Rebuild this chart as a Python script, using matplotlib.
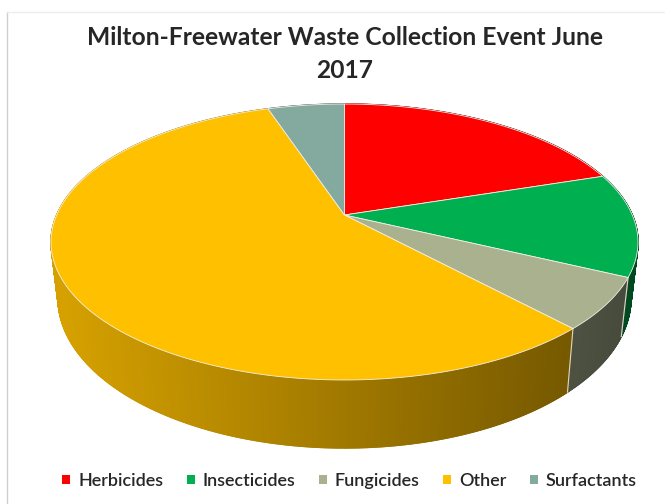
import numpy as np
import matplotlib
matplotlib.use("Agg")
import matplotlib.pyplot as plt
from matplotlib.patches import Patch, Polygon
from matplotlib.collections import PolyCollection

# Data
categories = ["Herbicides", "Insecticides", "Fungicides", "Other", "Surfactants"]
values = [20.0, 12.1, 6.0, 56.8, 5.1]
colors = ["#FF0000", "#00B050", "#A9B18E", "#FFC000", "#84A99E"]
title = "Milton-Freewater Waste Collection Event June\n2017"

plt.rcParams["font.family"] = ["Lato", "DejaVu Sans"]

# Tilted pie geometry, in pixels
cx, cy = 344.5, 215    # apex of the pie
a, b = 132.7, 287.8    # vertical / horizontal radius before perspective
k = 0.1957             # perspective strength
depth_rx = 0.976       # bottom rim is a bit narrower
top_mid, top_ry = 242, 138
bot_mid, bot_ry = 298, 150


def rim(theta):
    # theta is measured clockwise from 12 o'clock, in radians
    x, y = np.sin(theta), np.cos(theta)
    w = 1 + k * y
    return cx + b * x / w, cy - a * y / w


def lower(px, py):
    # same rim point moved down to the bottom of the pie
    return cx + (px - cx) * depth_rx, bot_mid + (py - top_mid) * bot_ry / top_ry


def shade(color, px):
    # side wall gets darker from left to right
    f = np.interp(px, [55, 630], [0.84, 0.42])
    return tuple(c * f for c in matplotlib.colors.to_rgb(color))


fig = plt.figure(figsize=(6.65, 5.04), dpi=100)
ax = fig.add_axes([0, 0, 1, 1])
ax.set_xlim(0, 665)
ax.set_ylim(504, 0)
ax.axis("off")

edges = np.cumsum([0] + values) / sum(values) * 2 * np.pi

# Side wall first, the top covers whatever is behind it
for i, color in enumerate(colors):
    th = np.linspace(edges[i], edges[i + 1], max(int(values[i] * 20), 4))
    px, py = rim(th)
    qx, qy = lower(px, py)
    quads = []
    quad_colors = []
    for j in range(len(th) - 1):
        quads.append([(px[j], py[j]), (px[j + 1], py[j + 1]), (qx[j + 1], qy[j + 1]), (qx[j], qy[j])])
        quad_colors.append(shade(color, (px[j] + px[j + 1]) / 2))
    ax.add_collection(PolyCollection(quads, facecolors=quad_colors, edgecolors=quad_colors, linewidths=1.0))
    # thin pale line at the slice boundary, only on the front of the pie
    if np.cos(edges[i]) < 0:
        ax.plot([px[0], qx[0]], [py[0], qy[0]], color="#D9D9C8", lw=0.8, zorder=2.5)

# Top of the pie
for i, color in enumerate(colors):
    th = np.linspace(edges[i], edges[i + 1], max(int(values[i] * 6), 4))
    px, py = rim(th)
    pts = np.column_stack([np.r_[cx, px], np.r_[cy, py]])
    ax.add_patch(Polygon(pts, closed=True, facecolor=color, edgecolor="#F0F0E6", lw=0.6, zorder=3))

# Frame of the chart area
ax.plot([7, 7], [12, 504], color="#CFCFCF", lw=1.0)
ax.plot([7, 665], [12, 12], color="#EDEDED", lw=1.0)

ax.text(345, 54, title, ha="center", va="center", fontsize=17.7, fontweight="bold",
        color="#262626", linespacing=1.48)

handles = [Patch(facecolor=c, edgecolor="none") for c in colors]
ax.legend(handles, categories, loc="center", bbox_to_anchor=(349.5 / 665, 1 - 481 / 504), ncol=5, frameon=False,
          prop={"size": 13, "weight": "semibold"}, handlelength=0.45, handleheight=0.45, handletextpad=0.45,
          columnspacing=1.28, labelcolor="#262626")

fig.savefig("out.png", dpi=100)
